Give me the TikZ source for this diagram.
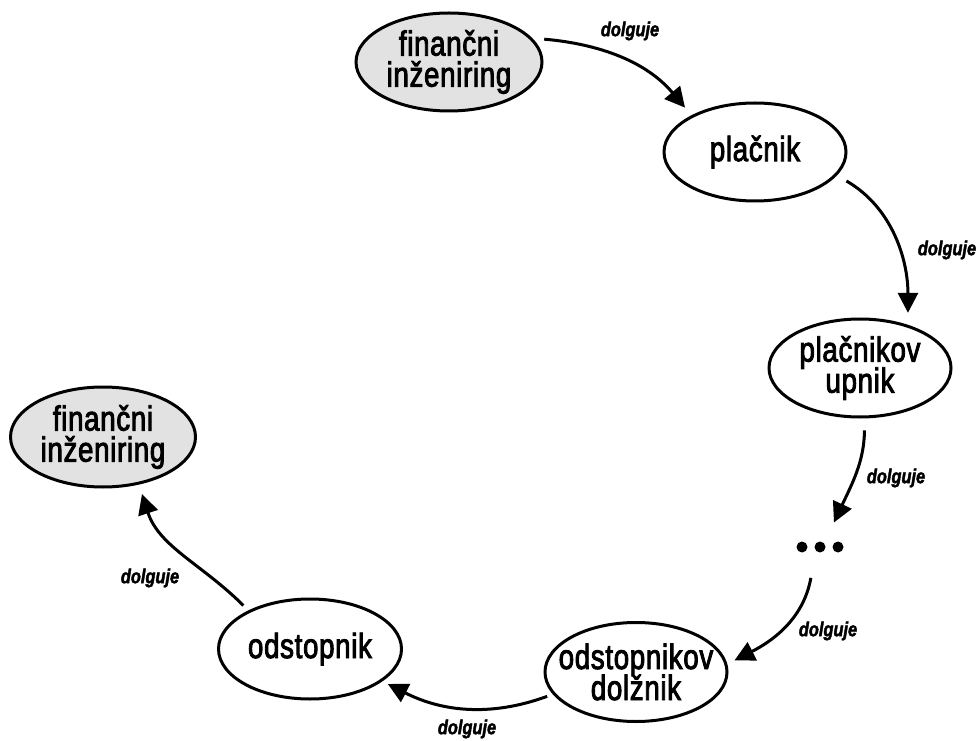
\documentclass[tikz,border=0pt]{standalone}
\usepackage{fontspec}
\setmainfont{Liberation Sans}[FakeStretch=0.79, FakeBold=2.5, LetterSpace=2]
\newfontfamily\lblfont{Liberation Sans}[FakeStretch=0.82, BoldItalicFeatures={FakeBold=2}]
\usetikzlibrary{arrows.meta,shapes.geometric}
\definecolor{fincol}{RGB}{226,226,226}
\newcommand\ellfont{\fontsize{35}{31}\selectfont\lineskiplimit=-100pt\lineskip=0pt}
\newcommand\ctr[1]{\makebox[0pt]{#1}}
\tikzset{
  ell/.style={ellipse, draw, line width=3pt, inner sep=0pt, font=\ellfont, align=center},
  fin/.style={ell, fill=fincol},
  lbl/.style={font=\lblfont\bfseries\itshape\fontsize{20}{21}\selectfont, inner sep=0pt},
  arr/.style={line width=3pt, -{Triangle[length=20pt,width=20pt]}}
}
\begin{document}
\begin{tikzpicture}[x=1pt,y=1pt]
\useasboundingbox (0,0) rectangle (979,740);
\node[fin, minimum width=186pt, minimum height=98pt] (fi1) at (449,678) {\ctr{finančni}\\\ctr{inženiring}};
\node[ell, minimum width=182pt, minimum height=98pt] (p) at (755,588) {\ctr{plačnik}};
\node[ell, minimum width=182pt, minimum height=98pt] (pu) at (860,372) {\ctr{plačnikov}\\\ctr{upnik}};
\node[circle, minimum size=52pt, inner sep=0pt] (dots) at (820,193) {};
\foreach \dx in {-18,0,18} \fill (dots.center) ++(\dx,0) circle (5.5pt);
\node[ell, minimum width=182pt, minimum height=99pt] (od) at (636,68) {\ctr{odstopnikov}\\\ctr{dolžnik}};
\node[ell, minimum width=183pt, minimum height=100pt] (o) at (310,91) {\ctr{odstopnik}};
\node[fin, minimum width=185pt, minimum height=100pt] (fi2) at (103,303) {\ctr{finančni}\\\ctr{inženiring}};

\draw[arr, shorten <=12pt, shorten >=10pt] (fi1.16) to[out=-5, in=130] (p.150);
\draw[arr, shorten <=11pt, shorten >=12pt] (p.-16) to[out=-30, in=90] (pu.42);
\draw[arr, shorten <=12pt, shorten >=2pt] (pu.-85) to[out=-90, in=65] (dots.60);
\draw[arr, shorten <=6pt, shorten >=8pt] (dots.-108) to[out=-100, in=27] (od.5);
\draw[arr, shorten <=6pt, shorten >=6pt] (od.195) to[out=200, in=-27] (o.-24);
\draw[arr, shorten <=7pt, shorten >=10pt] (o.148) to[out=135, in=-72] (fi2.-53);

\node[lbl] (l1) at (630,709) {dolguje};
\node[lbl] (l2) at (947,490) {dolguje};
\node[lbl] (l3) at (896,262) {dolguje};
\node[lbl] (l4) at (828,109) {dolguje};
\node[lbl] (l5) at (467,11) {dolguje};
\node[lbl] (l6) at (150,162) {dolguje};
\end{tikzpicture}
\end{document}
